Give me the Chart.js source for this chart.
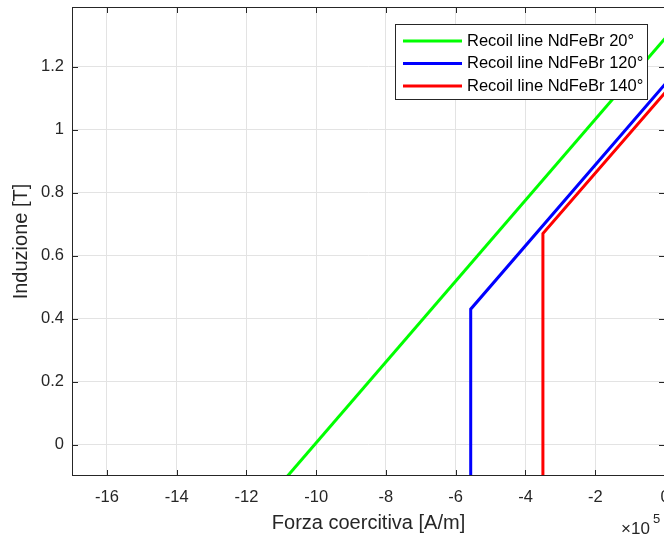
<!DOCTYPE html>
<html>
<head>
<meta charset="utf-8">
<script src="https://cdn.jsdelivr.net/npm/chart.js@4.4.1/dist/chart.umd.min.js"></script>
<style>
  html, body { margin: 0; padding: 0; background: #fff; overflow: hidden; }
  #wrap { width: 700px; height: 540px; }
</style>
</head>
<body>
<div id="wrap"><canvas id="chart" width="700" height="540"></canvas></div>
<script>
// values (x in 1e5 A/m, y in T)
const greenX = [-10.82, 0];
const greenY = [-0.1, 1.29];
const blueX = [-5.57, -5.57, 0];
const blueY = [-0.1, 0.43, 1.145];
const redX = [-3.5, -3.5, 0];
const redY = [-0.1, 0.67, 1.118];

const labels = ['Recoil line NdFeBr 20°', 'Recoil line NdFeBr 120°', 'Recoil line NdFeBr 140°'];
const colors = ['#00ff00', '#0000ff', '#ff0000'];

const xTicks = [-16, -14, -12, -10, -8, -6, -4, -2, 0];
const yTicks = [0, 0.2, 0.4, 0.6, 0.8, 1, 1.2];

const FONT = '"Liberation Sans", Arial, Helvetica, sans-serif';
const AXIS = '#262626';

function pts(xs, ys) {
  return xs.map((x, i) => ({ x: x, y: ys[i] }));
}

// box, inward ticks, tick labels, titles, legend (matlab look)
const matlabAxes = {
  id: 'matlabAxes',
  afterDraw(chart) {
    const ctx = chart.ctx;
    const a = chart.chartArea;
    const xs = chart.scales.x, ys = chart.scales.y;
    ctx.save();
    ctx.strokeStyle = AXIS;
    ctx.lineWidth = 1;
    ctx.strokeRect(a.left + 0.5, a.top + 0.5, a.right - a.left - 1, a.bottom - a.top - 1);

    const tl = 6;
    ctx.beginPath();
    xTicks.forEach(v => {
      const px = Math.round(xs.getPixelForValue(v)) + 0.5;
      ctx.moveTo(px, a.bottom); ctx.lineTo(px, a.bottom - tl);
      ctx.moveTo(px, a.top); ctx.lineTo(px, a.top + tl);
    });
    yTicks.forEach(v => {
      const py = Math.round(ys.getPixelForValue(v)) + 0.5;
      ctx.moveTo(a.left, py); ctx.lineTo(a.left + tl, py);
      ctx.moveTo(a.right, py); ctx.lineTo(a.right - tl, py);
    });
    ctx.stroke();

    ctx.fillStyle = AXIS;
    ctx.font = '16.5px ' + FONT;
    ctx.textAlign = 'center';
    ctx.textBaseline = 'middle';
    xTicks.forEach(v => {
      ctx.fillText(String(v), xs.getPixelForValue(v), a.bottom + 21);
    });
    ctx.textAlign = 'right';
    yTicks.forEach(v => {
      ctx.fillText(String(v), a.left - 8, ys.getPixelForValue(v));
    });

    // axis titles
    ctx.font = '20px ' + FONT;
    ctx.textAlign = 'center';
    ctx.fillText('Forza coercitiva [A/m]', (a.left + a.right) / 2, a.bottom + 47);
    ctx.save();
    ctx.translate(21, (a.top + a.bottom) / 2);
    ctx.rotate(-Math.PI / 2);
    ctx.fillText('Induzione [T]', 0, 0);
    ctx.restore();

    // exponent
    ctx.textAlign = 'left';
    ctx.textBaseline = 'alphabetic';
    ctx.font = '17px ' + FONT;
    ctx.fillText('×10', 621, 534);
    ctx.font = '13px ' + FONT;
    ctx.fillText('5', 653, 523);

    // legend
    const lx = 395.5, ly = 24.5, lw = 252, lh = 75;
    ctx.fillStyle = '#fff';
    ctx.fillRect(lx, ly, lw, lh);
    ctx.strokeStyle = AXIS;
    ctx.lineWidth = 1;
    ctx.strokeRect(lx, ly, lw, lh);
    ctx.font = '16.5px ' + FONT;
    ctx.textBaseline = 'middle';
    chart.data.datasets.forEach((ds, i) => {
      const y = 41 + i * 22.5;
      ctx.strokeStyle = ds.borderColor;
      ctx.lineWidth = 3;
      ctx.beginPath();
      ctx.moveTo(403, y); ctx.lineTo(462, y);
      ctx.stroke();
      ctx.fillStyle = '#000';
      ctx.fillText(ds.label, 467, y);
    });
    ctx.restore();
  }
};

new Chart(document.getElementById('chart'), {
  type: 'scatter',
  data: {
    datasets: [
      { label: labels[0], data: pts(greenX, greenY), borderColor: colors[0] },
      { label: labels[1], data: pts(blueX, blueY), borderColor: colors[1] },
      { label: labels[2], data: pts(redX, redY), borderColor: colors[2] }
    ].map(d => Object.assign(d, {
      showLine: true, borderWidth: 3, pointRadius: 0, pointHoverRadius: 0,
      tension: 0, fill: false, backgroundColor: d.borderColor
    }))
  },
  options: {
    responsive: false,
    animation: false,
    events: [],
    layout: { padding: { left: 72, right: 35, top: 7, bottom: 64 } },
    plugins: { legend: { display: false }, tooltip: { enabled: false } },
    scales: {
      x: {
        type: 'linear', min: -17, max: 0,
        afterBuildTicks: s => { s.ticks = xTicks.map(v => ({ value: v })); },
        ticks: { display: false },
        grid: { color: '#e3e3e3', drawTicks: false },
        border: { display: false }
      },
      y: {
        type: 'linear', min: -0.1, max: 1.39,
        afterBuildTicks: s => { s.ticks = yTicks.map(v => ({ value: v })); },
        ticks: { display: false },
        grid: { color: '#e3e3e3', drawTicks: false },
        border: { display: false }
      }
    }
  },
  plugins: [matlabAxes]
});
</script>
</body>
</html>
